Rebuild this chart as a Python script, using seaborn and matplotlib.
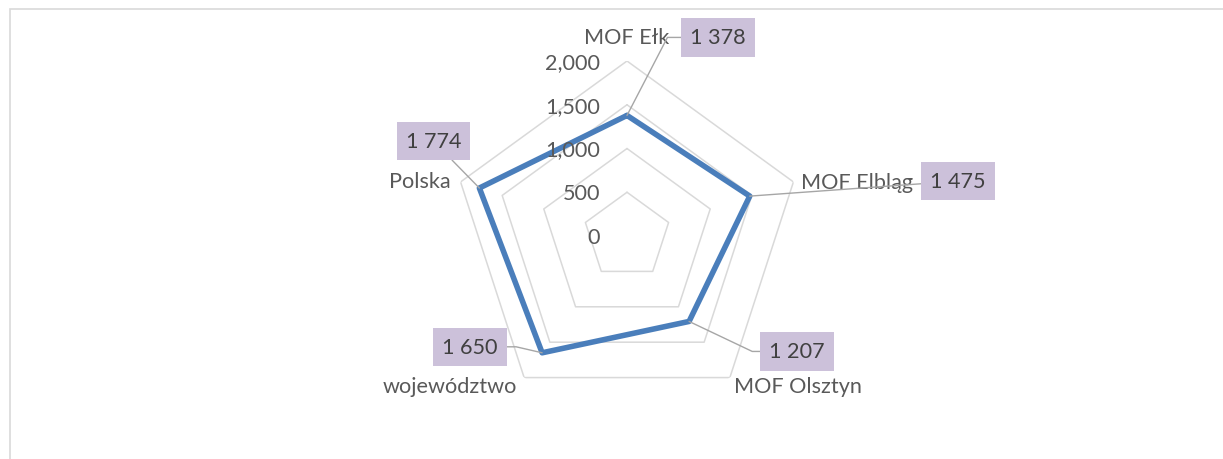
import numpy as np
import matplotlib
matplotlib.use("Agg")
import matplotlib.pyplot as plt
import seaborn as sns
from matplotlib.patches import Rectangle

categories = ["MOF Ełk", "MOF Elbląg", "MOF Olsztyn", "województwo", "Polska"]
values = [1378, 1475, 1207, 1650, 1774]
value_labels = ["1 378", "1 475", "1 207", "1 650", "1 774"]
grid_levels = [0, 500, 1000, 1500, 2000]
tick_labels = ["0", "500", "1,000", "1,500", "2,000"]

sns.set_theme(style="white")
plt.rcParams["font.family"] = ["Lato", "DejaVu Sans"]

FS = 15.6
TXT = "#595959"
fig = plt.figure(figsize=(12.23, 4.6), dpi=100)
fig.patch.set_facecolor("white")

# frame of the chart area (top and left edges visible)
fig.add_artist(Rectangle((10 / 1223, -0.5), 3, 1.5 - 10 / 460,
                         transform=fig.transFigure, fill=False,
                         edgecolor="#d9d9d9", linewidth=1.2))

ax = fig.add_axes([(627 - 175) / 1223, (223 - 175) / 460, 350 / 1223, 350 / 460],
                  projection="polar")
ax.set_theta_zero_location("N")
ax.set_theta_direction(-1)
ax.set_facecolor("none")

n = len(categories)
angles = np.linspace(0, 2 * np.pi, n, endpoint=False)
ang_closed = np.append(angles, 2 * np.pi)

# pentagonal grid
for lvl in grid_levels[1:]:
    ax.plot(ang_closed, [lvl] * (n + 1), color="#d9d9d9", lw=1.1, zorder=1)

vals_closed = values + [values[0]]
sns.lineplot(x=ang_closed, y=vals_closed, sort=False, estimator=None, ax=ax,
             color="#4a7ebb", lw=4.0, zorder=3)

ax.set_ylim(0, 2000)
ax.set_xlim(0, 2 * np.pi)
ax.set_xticks([])
ax.set_yticks([])
ax.grid(False)
ax.spines["polar"].set_visible(False)
ax.set_xlabel("")
ax.set_ylabel("")

# radial tick labels
for lvl, lab in zip(grid_levels, tick_labels):
    ax.annotate(lab, xy=(0, lvl), xytext=(-27, -1), textcoords="offset pixels",
                ha="right", va="center", fontsize=FS, color=TXT)

# category labels
cat_offsets = [(0, 24), (8, 0), (4, -8), (-7, -8), (-10, 1)]
cat_ha = ["center", "left", "left", "right", "right"]
for a, lab, off, ha in zip(angles, categories, cat_offsets, cat_ha):
    ax.annotate(lab, xy=(a, 2000), xytext=off, textcoords="offset pixels",
                ha=ha, va="center", fontsize=FS, color=TXT)

# data labels
lab_offsets = [(91, 78), (208, 15), (108, -30), (-72, 6), (-46, 47)]
connections = ["angle,angleA=0,angleB=62.6,rad=0", "arc3",
               "angle,angleA=0,angleB=-25.4,rad=0",
               "angle,angleA=0,angleB=167,rad=0", "arc3"]
for a, v, lab, off, cs in zip(angles, values, value_labels, lab_offsets, connections):
    ax.annotate(lab, xy=(a, v), xytext=off, textcoords="offset pixels",
                ha="center", va="center", fontsize=FS, color="#404040",
                bbox=dict(boxstyle="square,pad=0.42", fc="#ccc1da", ec="none"),
                arrowprops=dict(arrowstyle="-", color="#a6a6a6", lw=1.0,
                                shrinkA=0, shrinkB=0, connectionstyle=cs),
                zorder=5)

fig.savefig("out.png", dpi=100, facecolor="white")
